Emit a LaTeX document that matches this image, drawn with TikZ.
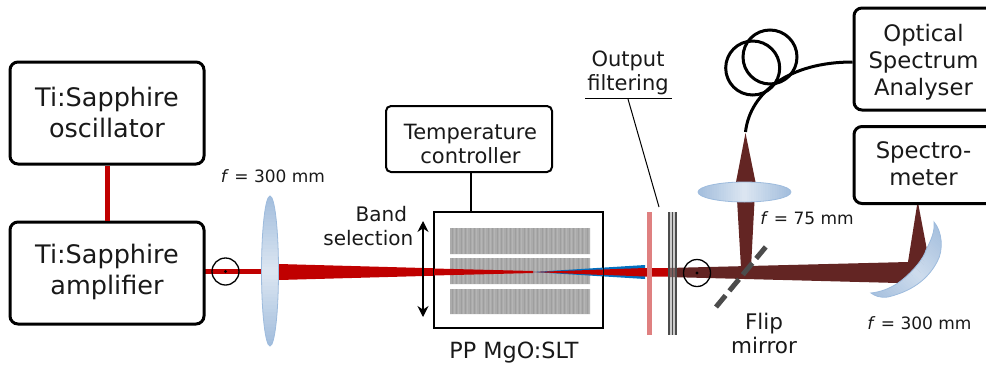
\documentclass[tikz,border=0pt]{standalone}
\usepackage{fontspec}
\setmainfont{DejaVu Sans}
\usetikzlibrary{arrows.meta}
\definecolor{beamred}{HTML}{C00000}
\definecolor{beamdark}{HTML}{632523}
\definecolor{beamblue}{HTML}{0070C0}
\definecolor{lensedge}{HTML}{9DBBDD}
\definecolor{lensdark}{HTML}{A3BEDD}
\definecolor{lenslight}{HTML}{DCE6F2}
\definecolor{stripe}{HTML}{ABABAB}
\tikzset{
 instr/.style={draw=black,line width=3pt,rounded corners=8pt,fill=white,align=center,inner sep=0pt},
 bigtxt/.style={inner sep=0pt,align=center,text=black!90,font=\fontsize{25.5}{30.5}\selectfont},
 righttxt/.style={inner sep=0pt,align=center,text=black!90,font=\fontsize{22.7}{27}\selectfont},
 temptxt/.style={inner sep=0pt,align=center,text=black!90,font=\fontsize{21}{24}\selectfont},
 lbl/.style={align=center,inner sep=0pt,text=black!90,font=\fontsize{20}{24}\selectfont},
 lblb/.style={align=center,inner sep=0pt,text=black!90,font=\fontsize{21}{23.5}\selectfont},
 flab/.style={inner sep=0pt,text=black!90,font=\fontsize{17}{20}\selectfont},
 thin box/.style={draw=black,line width=2pt,fill=white},
 pol/.style={draw=black,line width=1.3pt,circle,minimum size=27pt,inner sep=0pt},
 fibre/.style={draw=black,line width=3pt},
 lensline/.style={draw=lensedge,line width=.8pt},
}
\newcommand{\fsym}{\textit{f}}
\newcommand{\mirrorpath}{(934,222) .. controls (942,231) and (944,250) .. (937,262) .. controls (930,275) and (917,290) .. (888,297)
 .. controls (880,298) and (875,296) .. (871,293)
 .. controls (880,292) and (889,289) .. (898,283) .. controls (912,273) and (924,258) .. (926,250)
 .. controls (931,240) and (935,232) .. (934,222) -- cycle}
\begin{document}
\begin{tikzpicture}[x=1pt,y=-1pt]
\useasboundingbox (0,0) rectangle (986,365);
\clip (0,0) rectangle (986,365);
% beams
\fill[beamred] (205,269) rectangle (262,274);
\fill[beamred] (279,264) -- (533,271) -- (533,273) -- (279,280) -- cycle;
\fill[beamblue] (533,272) -- (645,265) -- (645,279) -- cycle;
\fill[beamred] (533,272) -- (645,268) -- (668,268) -- (668,276.5) -- (645,276.5) -- cycle;
\fill[beamdark] (668,268) -- (908,262) -- (917.7,201) -- (927,250) -- (922,272) -- (898,283) -- (668,277) -- cycle;
\fill[beamdark] (745.5,133) -- (755.5,182) -- (751,268) -- (741,268) -- (736,182) -- cycle;
% instruments
\node[instr,minimum width=194pt,minimum height=102pt] (osc) at (107,113) {};
\node[bigtxt] (osct) at (107,112.5) {Ti:Sapphire\\oscillator};
\node[instr,minimum width=194pt,minimum height=102pt] (amp) at (107,273) {};
\node[bigtxt] (ampt) at (107,272) {Ti:Sapphire\\amplifier};
\draw[beamred,line width=5pt] (osc) -- (amp);
\node[thin box,minimum width=169pt,minimum height=116pt] (xtal) at (518.5,270) {};
\fill[stripe] (450,228) rectangle (590,254) (450,258) rectangle (590,284) (450,289) rectangle (590,314);
\foreach \x in {452,456.5,...,590}{
  \foreach \ya/\yb in {228/254,258/284,289/314}{
    \draw[black!38,line width=.8pt] (\x,\ya) -- (\x,\yb);
    \draw[black!29,line width=.8pt] (\x+2,\ya) -- (\x+2,\yb);
  }
}
\fill[beamred] (434,268.5) -- (533,271) -- (533,273) -- (434,275.5) -- cycle;
\fill[beamblue] (533,272) -- (603,267.6) -- (603,276.4) -- cycle;
\fill[beamred] (533,272) -- (603,269.5) -- (603,275) -- cycle;
\node[instr,line width=2pt,rounded corners=5pt,minimum width=166pt,minimum height=66pt] (temp) at (469,139) {};
\node[temptxt] (tempt) at (470.5,144) {Temperature\\controller};
\coordinate (tc) at (471,172);
\draw[line width=2pt] (tc) -- (tc |- xtal.north);
% band arrow
\coordinate (bt) at (423,221); \coordinate (bb) at (423,317);
\draw[line width=1.3pt,{Stealth[length=11pt,width=11pt]}-{Stealth[length=11pt,width=11pt]}] (bt) -- (bb);
\node[lbl,anchor=east] (band) at (413.5,226) {\hspace*{26pt}Band\\selection};
% vertical lens
\begin{scope}
\clip (270,271) ellipse [x radius=8.5,y radius=75];
\foreach \i in {0,...,39}{
  \pgfmathsetmacro{\p}{100*(1-abs(\i-19.5)/19.5)}
  \fill[lenslight!\p!lensdark] (260,196+3.75*\i) rectangle (280,196+3.75*\i+4.2);
}
\end{scope}
\draw[lensline] (270,271) ellipse [x radius=8.5,y radius=75];
% horizontal lens
\begin{scope}
\clip (744.5,192) ellipse [x radius=46.5,y radius=10];
\foreach \i in {0,...,39}{
  \pgfmathsetmacro{\p}{100*(1-abs(\i-19.5)/19.5)}
  \fill[lenslight!\p!lensdark] (698+2.325*\i,180) rectangle (698+2.325*\i+2.7,204);
}
\end{scope}
\draw[lensline] (744.5,192) ellipse [x radius=46.5,y radius=10];
% curved mirror
\begin{scope}
\clip \mirrorpath;
\foreach \i in {0,...,39}{
  \pgfmathsetmacro{\p}{75*(1-abs(\i-19.5)/19.5)}
  \pgfmathsetmacro{\sa}{570+3.7*\i}
  \pgfmathsetmacro{\sb}{\sa+4.2}
  \fill[lenslight!\p!lensdark]
    ({(1150+\sa)/2},{(1150-\sa)/2}) -- ({(1150+\sb)/2},{(1150-\sb)/2})
    -- ({(1270+\sb)/2},{(1270-\sb)/2}) -- ({(1270+\sa)/2},{(1270-\sa)/2}) -- cycle;
}
\end{scope}
\draw[lensline] \mirrorpath;
% polarisation
\node[pol] (p1) at (225.5,271.5) {};
\fill (p1.center) circle (1.6);
\node[pol] (p2) at (697,273) {};
\fill (p2.center) circle (1.6);
% filters
\fill[white!50!beamred] (647,212) rectangle (652,335);
\fill[black!40,opacity=.5] (668,212) rectangle (677,335);
\foreach \x in {669,672.5,676}{\draw[black!70,line width=1.6pt] (\x,212) -- (\x,335);}
% flip mirror
\coordinate (ma) at (716,307); \coordinate (mb) at (769,243);
\draw[black!70,line width=5pt,dash pattern=on 15pt off 6pt] (ma) -- (mb);
% fibre
\node[fibre,circle,minimum size=54pt,inner sep=0pt] (c1) at (752.7,68) {};
\node[fibre,circle,minimum size=54pt,inner sep=0pt] (c2) at (770,57) {};
% right hand instruments
\node[instr,minimum width=180pt,minimum height=102pt] (osa) at (944,59) {};
\node[instr,minimum width=180pt,minimum height=77pt] (spec) at (944,165) {};
\node[righttxt] (osat) at (923.5,62) {Optical\\Spectrum\\Analyser};
\node[righttxt] (spect) at (923.5,164) {Spectro-\\meter};
\coordinate (fe) at (745.5,132);
\draw[fibre] (fe) .. controls (750,92) and (790,62) .. (osa.west |- 0,62);
% text
\node[flab] (f1) at (273,176) {\fsym\ = 300 mm};
\node[flab] (f2) at (807,218) {\fsym\ = 75 mm};
\node[flab] (f3) at (919.5,323) {\fsym\ = 300 mm};
\node[lbl,font=\fontsize{22.3}{26}\selectfont] (ppl) at (514,353) {PP MgO:SLT};
\node[lbl,font=\fontsize{21.5}{24}\selectfont] (flip) at (764,333) {Flip\\mirror};
\node[lblb] (ofl) at (628,73) {Output\\filtering};
\coordinate (ol) at (585,98.5); \coordinate (or) at (672,98.5);
\draw[line width=1pt] (ol) -- (or);
\coordinate (os) at (628,99); \coordinate (oe) at (659,207);
\draw[line width=1pt] (os) -- (oe);
\end{tikzpicture}
\end{document}
